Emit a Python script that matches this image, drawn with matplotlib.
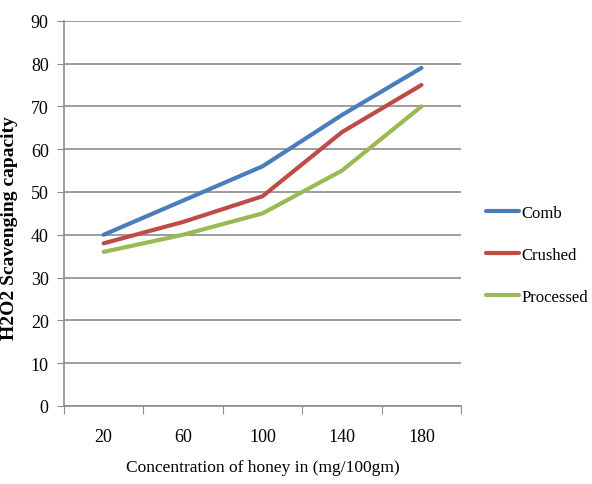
import matplotlib
matplotlib.use('Agg')
import matplotlib.pyplot as plt
import numpy as np

# honey concentrations (mg/100gm) and H2O2 scavenging readings
concentrations = ["20", "60", "100", "140", "180"]
comb = [40, 48, 56, 68, 79]
crushed = [38, 43, 49, 64, 75]
processed = [36, 40, 45, 55, 70]

plt.rcParams['font.family'] = ['Liberation Serif', 'DejaVu Serif']

fig = plt.figure(figsize=(5.92, 4.85), dpi=100)
ax = fig.add_axes([0.108, 0.161, 0.671, 0.794])

x = np.arange(len(concentrations)) + 0.5
ax.plot(x, comb, color='#4a7ebb', lw=3, label='Comb', solid_capstyle='round')
ax.plot(x, crushed, color='#be4b48', lw=3, label='Crushed', solid_capstyle='round')
ax.plot(x, processed, color='#98b954', lw=3, label='Processed', solid_capstyle='round')

ax.set_xlim(0, len(concentrations))
ax.set_ylim(0, 90)
ax.set_yticks(np.arange(0, 91, 10))
ax.yaxis.grid(True, color='#8c8c8c', lw=1.2)
ax.set_axisbelow(True)

# category boundaries get the tick marks, labels sit in the middle
ax.set_xticks(np.arange(len(concentrations) + 1))
ax.set_xticklabels([])
ax.set_xticks(x, minor=True)
ax.set_xticklabels(concentrations, minor=True)
ax.tick_params(axis='x', which='major', length=6, color='#8c8c8c', direction='out')
ax.tick_params(axis='x', which='minor', length=0, pad=16, labelsize=13)
ax.tick_params(axis='y', length=5, color='#8c8c8c', pad=6, labelsize=13)

for side in ('top', 'right'):
    ax.spines[side].set_visible(False)
for side in ('left', 'bottom'):
    ax.spines[side].set_color('#8c8c8c')
    ax.spines[side].set_linewidth(1.2)

ax.set_xlabel('Concentration of honey in (mg/100gm)', fontsize=12.5, labelpad=10)
ax.set_ylabel('H2O2 Scavenging capacity', fontsize=14, fontweight='bold')
ax.yaxis.set_label_coords(-0.116, 0.465)

ax.legend(loc='center left', bbox_to_anchor=(486 / 592, 1 - 256 / 485),
          bbox_transform=fig.transFigure, frameon=False, borderpad=0,
          borderaxespad=0, fontsize=12, handlelength=2.0,
          handletextpad=0.15, labelspacing=1.55)

fig.savefig('out.png', dpi=100)
